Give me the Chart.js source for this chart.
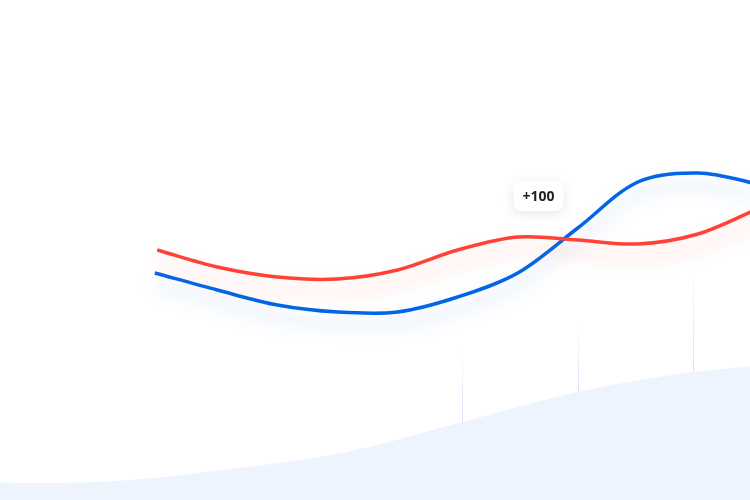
<!DOCTYPE html>
<html>
<head>
<meta charset="utf-8">
<script src="https://cdn.jsdelivr.net/npm/chart.js"></script>
<style>
  html, body { margin: 0; padding: 0; background: #fff; }
  #wrap { width: 750px; height: 500px; }
</style>
</head>
<body>
<div id="wrap"><canvas id="waveChart"></canvas></div>
<script>
// data (x in grid steps, y in value units 0-100)
const redX = [1.36, 1.88, 2.4, 2.92, 3.44, 3.96, 4.48, 5.0, 5.52, 6.04, 6.55, 7.07];
const redY = [50, 46.6, 44.6, 44.2, 46, 50, 52.6, 52, 51.2, 53.2, 58.2, 64];
const blueX = [1.34, 1.88, 2.4, 2.92, 3.44, 3.96, 4.48, 5.0, 5.52, 6.04, 6.55, 7.07];
const blueY = [45.4, 42, 39, 37.6, 37.6, 40.6, 45.4, 54.4, 63.6, 65.4, 63.2, 60];
const areaX = [-1, 0, 1, 2, 3, 4, 5, 6, 7];
const areaY = [4.4, 3.5, 3.8, 6.2, 9.6, 15.6, 21.6, 25.6, 27.6];
const gridX = [4, 5, 6];
const gridTop = [30, 35.4, 48.4];
const gridBottom = [15.6, 21.6, 25.6];
const badgeText = '+100';
const badgePos = [4.66, 60.8];

const toPts = (xs, ys) => xs.map((x, i) => ({ x: x, y: ys[i] }));

// glow under the two lines
const glowPlugin = {
  id: 'glow',
  beforeDatasetDraw(chart, args) {
    const ds = chart.data.datasets[args.index];
    if (!ds.glow) return;
    const ctx = chart.ctx;
    ctx.save();
    ctx.shadowColor = ds.glow;
    ctx.shadowBlur = 18;
    ctx.shadowOffsetY = 12;
  },
  afterDatasetDraw(chart, args) {
    const ds = chart.data.datasets[args.index];
    if (ds.glow) chart.ctx.restore();
  }
};

// faint vertical guide lines
const guidePlugin = {
  id: 'guides',
  beforeDatasetsDraw(chart) {
    const ctx = chart.ctx;
    const xs = chart.scales.x, ys = chart.scales.y;
    ctx.save();
    gridX.forEach((gx, i) => {
      const px = Math.round(xs.getPixelForValue(gx)) + 0.5;
      const top = ys.getPixelForValue(gridTop[i]);
      const bot = ys.getPixelForValue(gridBottom[i]);
      const g = ctx.createLinearGradient(0, top, 0, bot);
      g.addColorStop(0, 'rgba(214,226,246,0)');
      g.addColorStop(1, 'rgba(214,226,246,1)');
      ctx.strokeStyle = g;
      ctx.lineWidth = 1;
      ctx.beginPath();
      ctx.moveTo(px, top);
      ctx.lineTo(px, bot);
      ctx.stroke();
    });
    ctx.restore();
  }
};

// "+100" badge
const badgePlugin = {
  id: 'badge',
  afterDatasetsDraw(chart) {
    const ctx = chart.ctx;
    const cx = chart.scales.x.getPixelForValue(badgePos[0]);
    const cy = chart.scales.y.getPixelForValue(badgePos[1]);
    const w = 50, h = 30;
    ctx.save();
    ctx.shadowColor = 'rgba(40,60,120,0.12)';
    ctx.shadowBlur = 12;
    ctx.shadowOffsetY = 3;
    ctx.fillStyle = '#fff';
    ctx.beginPath();
    ctx.roundRect(cx - w / 2, cy - h / 2, w, h, 8);
    ctx.fill();
    ctx.shadowColor = 'transparent';
    ctx.fillStyle = '#1f1f24';
    ctx.font = 'bold 14px "Open Sans", sans-serif';
    ctx.textAlign = 'center';
    ctx.textBaseline = 'middle';
    ctx.fillText(badgeText, cx, cy + 1);
    ctx.restore();
  }
};

new Chart(document.getElementById('waveChart'), {
  type: 'line',
  data: {
    datasets: [
      {
        data: toPts(areaX, areaY),
        borderWidth: 0,
        backgroundColor: '#eef4fe',
        fill: 'start',
        tension: 0.33,
        pointRadius: 0
      },
      {
        data: toPts(redX, redY),
        borderColor: '#ff4136',
        borderWidth: 3.5,
        tension: 0.33,
        pointRadius: 0,
        fill: false,
        glow: 'rgba(255,80,60,0.3)'
      },
      {
        data: toPts(blueX, blueY),
        borderColor: '#0066e6',
        borderWidth: 3.5,
        tension: 0.33,
        pointRadius: 0,
        fill: false,
        glow: 'rgba(0,102,230,0.25)'
      }
    ]
  },
  options: {
    responsive: true,
    maintainAspectRatio: false,
    animation: false,
    layout: { padding: 0 },
    plugins: { legend: { display: false }, tooltip: { enabled: false } },
    scales: {
      x: { type: 'linear', min: 0, max: 6.49, display: false },
      y: { min: 0, max: 100, display: false }
    }
  },
  plugins: [glowPlugin, guidePlugin, badgePlugin]
});
</script>
</body>
</html>
